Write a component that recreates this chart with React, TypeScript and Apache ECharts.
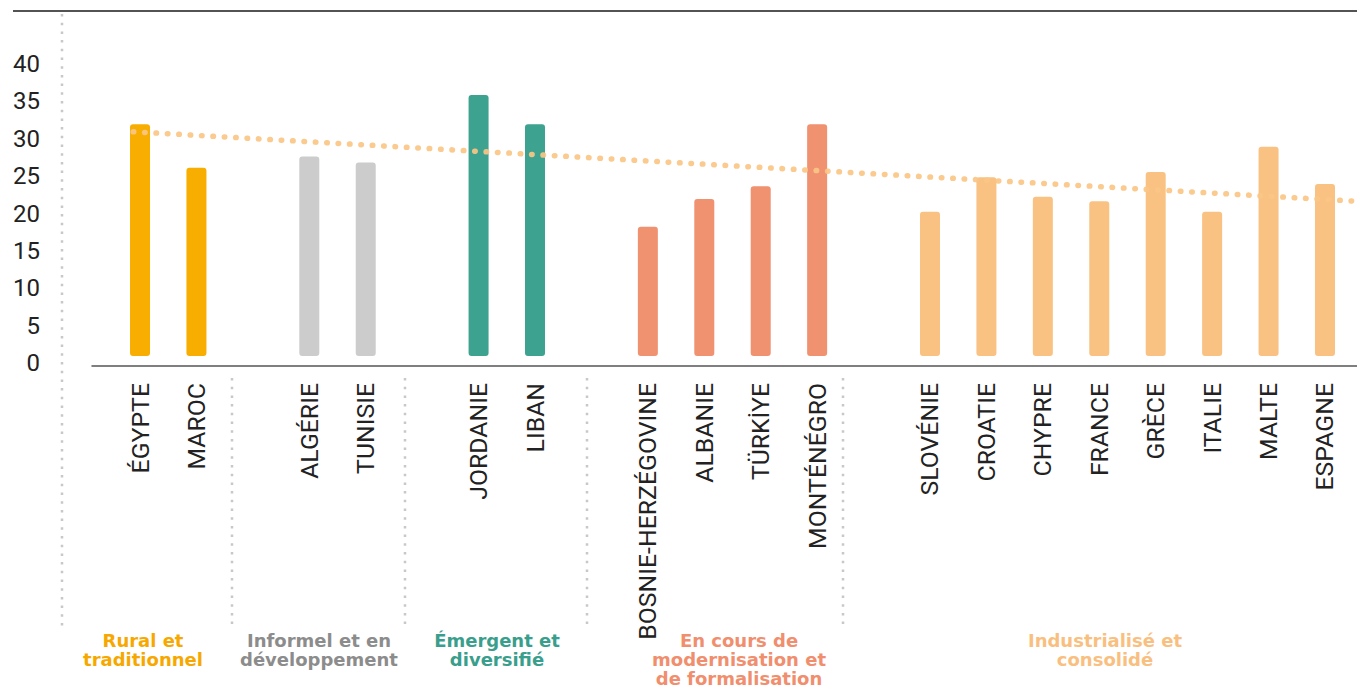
import React, { useEffect, useRef } from "react";
import * as echarts from "echarts";

// ---- Data ----
const countries = [
  "ÉGYPTE", "MAROC",
  "ALGÉRIE", "TUNISIE",
  "JORDANIE", "LIBAN",
  "BOSNIE-HERZÉGOVINE", "ALBANIE", "TÜRKİYE", "MONTÉNÉGRO",
  "SLOVÉNIE", "CROATIE", "CHYPRE", "FRANCE", "GRÈCE", "ITALIE", "MALTE", "ESPAGNE",
];
const values = [
  31.0, 25.2,
  26.7, 25.9,
  34.9, 31.0,
  17.3, 21.0, 22.7, 31.0,
  19.3, 23.9, 21.3, 20.7, 24.6, 19.3, 28.0, 23.0,
];
const groupOf = [0, 0, 1, 1, 2, 2, 3, 3, 3, 3, 4, 4, 4, 4, 4, 4, 4, 4];
const groupNames = [
  "Rural et\ntraditionnel",
  "Informel et en\ndéveloppement",
  "Émergent et\ndiversifié",
  "En cours de\nmodernisation et\nde formalisation",
  "Industrialisé et\nconsolidé",
];
const groupBarColors = ["#F8AE00", "#CCCCCC", "#3DA28F", "#F09170", "#F9C283"];
const groupTextColors = ["#F7A800", "#8C8C8C", "#3A9E8C", "#F08E6E", "#F9BF80"];
const yTicks = [0, 5, 10, 15, 20, 25, 30, 35, 40];
const trendValues = [30.0, 20.7];
const trendPositions = [-0.12, 21.567];

// ---- Build category list with spacer slots between groups ----
const categories: string[] = [];
const barData: any[] = [];
countries.forEach((c, i) => {
  if (i > 0 && groupOf[i] !== groupOf[i - 1]) {
    categories.push("");
    barData.push(null);
  }
  categories.push(c);
  barData.push({
    value: values[i],
    itemStyle: { color: groupBarColors[groupOf[i]] },
  });
});

// layout (pixels)
const groupLabelX = [143, 319, 497, 739, 1105];
const separatorsX = [232, 405, 587, 843];

export default function App() {
  const ref = useRef<HTMLDivElement>(null);
  useEffect(() => {
    if (!ref.current) return;
    const chart = echarts.init(ref.current, undefined, { renderer: "svg" });
    const graphics: any[] = [
      {
        type: "line",
        shape: { x1: 13, y1: 11, x2: 1357, y2: 11 },
        style: { stroke: "#1a1a1a", lineWidth: 1.5 },
      },
      {
        type: "line",
        shape: { x1: 62, y1: 14, x2: 62, y2: 630 },
        style: { stroke: "#c8c8c8", lineWidth: 2.5, lineDash: [2.5, 6.2] },
      },
      ...separatorsX.map((x) => ({
        type: "line",
        shape: { x1: x, y1: 378, x2: x, y2: 630 },
        style: { stroke: "#c8c8c8", lineWidth: 2.5, lineDash: [2.5, 6.2] },
      })),
      ...groupNames.map((name, i) => ({
        type: "text",
        x: groupLabelX[i],
        y: 631,
        style: {
          text: name,
          fill: groupTextColors[i],
          font: "bold 18px 'DejaVu Sans'",
          align: "center",
          verticalAlign: "top",
          lineHeight: 19,
        },
      })),
    ];
    const yRange = { min: yTicks[0], max: yTicks[yTicks.length - 1], interval: 5 };
    chart.setOption({
      animation: false,
      grid: [
        { left: 92, right: 0, top: 57, bottom: 333 },
        { left: 111.8, right: 3.8, top: 57, bottom: 333 },
        { left: 92, right: 0, top: 64, bottom: 326 },
      ],
      xAxis: [
        {
          gridIndex: 0,
          type: "value",
          min: -0.851,
          max: 21.567,
          offset: 10,
          axisLine: { show: true, onZero: false, lineStyle: { color: "#555", width: 1.5 } },
          axisTick: { show: false },
          axisLabel: { show: false },
          splitLine: { show: false },
        },
        {
          gridIndex: 1,
          type: "category",
          data: categories,
          offset: 10,
          axisLine: { show: false },
          axisTick: { show: false },
          axisLabel: {
            rotate: 90,
            interval: 0,
            margin: 17,
            fontSize: 24.8,
            color: "#222",
            fontFamily: "Roboto",
          },
        },
        {
          gridIndex: 2,
          type: "value",
          show: false,
        },
      ],
      yAxis: [
        {
          gridIndex: 0,
          type: "value",
          ...yRange,
          show: false,
        },
        {
          gridIndex: 1,
          type: "value",
          ...yRange,
          show: false,
        },
        {
          gridIndex: 2,
          type: "value",
          ...yRange,
          axisLine: { show: false },
          axisTick: { show: false },
          splitLine: { show: false },
          axisLabel: {
            margin: 52,
            fontSize: 24,
            color: "#222",
            fontFamily: "Roboto",
          },
        },
      ],
      series: [
        {
          type: "bar",
          xAxisIndex: 1,
          yAxisIndex: 1,
          data: barData,
          barWidth: 20,
          itemStyle: { borderRadius: 3 },
          z: 2,
        },
        {
          type: "line",
          xAxisIndex: 0,
          yAxisIndex: 0,
          data: trendPositions.map((x, i) => [x, trendValues[i]]),
          symbol: "none",
          lineStyle: {
            color: "#FAC585",
            width: 5.5,
            type: [0.5, 10.9],
            cap: "round",
            opacity: 0.92,
          },
          z: 5,
        },
      ],
      graphic: graphics,
    });
    return () => chart.dispose();
  }, []);
  return (
    <div
      ref={ref}
      style={{ position: "absolute", left: 0, top: 0, width: 1357, height: 689 }}
    />
  );
}
